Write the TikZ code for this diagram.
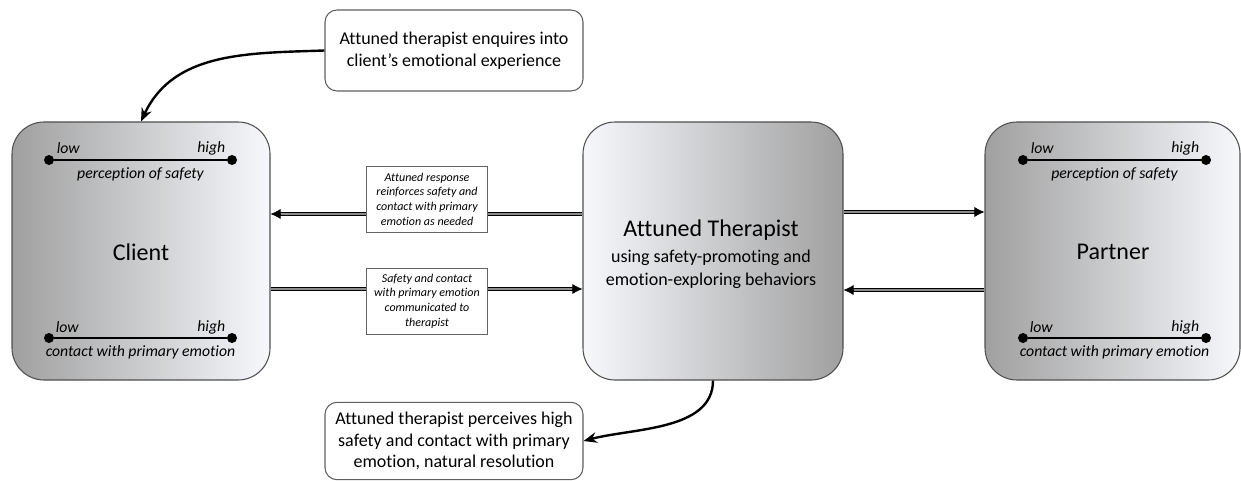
\documentclass[tikz,border=0pt]{standalone}
\usepackage{fontspec}
\setmainfont{Carlito}[Ligatures={NoCommon,NoRequired,NoContextual}]
\usetikzlibrary{arrows.meta,calc}
\definecolor{shdark}{RGB}{160,160,160}
\definecolor{shlight}{RGB}{246,248,252}
\definecolor{bordergray}{RGB}{80,80,80}
\definecolor{notegray}{RGB}{95,95,95}
\definecolor{labelgray}{RGB}{100,100,100}
\definecolor{dblgray}{RGB}{140,140,140}
\begin{document}
\begin{tikzpicture}[x=0.75pt,y=-0.75pt,
  bigbox/.style={draw=bordergray, line width=0.8pt, rounded corners=24pt, inner sep=0pt, minimum height=193.5pt},
  notebox/.style={draw=notegray, line width=0.8pt, rounded corners=9pt, fill=white, minimum width=193.5pt, align=center, inner sep=0pt, font=\fontsize{13.5}{16.2}\selectfont},
  labelbox/.style={draw=labelgray, line width=0.6pt, fill=white, minimum width=91pt, minimum height=49.5pt, inner sep=0pt, align=center, font=\fontsize{9}{11}\selectfont\itshape},
  dblline/.style={draw=black, line width=0.75pt, double=dblgray, double distance=1.9pt, shorten >=6pt},
  dbltip/.style={-{Latex[length=7.5pt,width=7.5pt]}, line width=0.5pt},
  curvearrow/.style={-{Stealth[length=10pt,width=8pt]}, line width=1.8pt},
  scaletext/.style={font=\fontsize{11.8}{14}\selectfont\itshape, inner sep=0pt},
  scaleline/.style={line width=1.5pt},
  scaledot/.style={circle, fill=black, minimum size=7.5pt, inner sep=0pt},
  bigtext/.style={font=\fontsize{18}{21}\selectfont}
]
\useasboundingbox (0,0) rectangle (1241,481);

% main boxes
\node[bigbox, minimum width=193.5pt, left color=shdark, right color=shlight] (client) at (141,251) {};
\node[bigbox, minimum width=195pt, left color=shlight, right color=shdark] (ther) at (713,251) {};
\node[bigbox, minimum width=191.25pt, left color=shdark, right color=shlight] (partner) at (1112.5,251) {};

\node[bigtext] (clientlbl) at (141,252) {Client};
\node[bigtext] (partnerlbl) at (1113,252) {Partner};
\node[align=center, font=\fontsize{13.5}{17.2}\selectfont, inner sep=0pt] (thertext) at (711,254)
  {{\fontsize{18}{21}\selectfont Attuned Therapist}\\[2.4pt]
   using safety-promoting and\\ emotion-exploring behaviors};

% scales
\foreach \b/\cx in {client/140.5, partner/1114.5}{
  \node[scaledot] (\b-d1) at (\cx-91.5,160) {};
  \node[scaledot] (\b-d2) at (\cx+91.5,160) {};
  \draw[scaleline] (\b-d1) -- (\b-d2);
  \node[scaletext, anchor=west] (\b-low1) at (\cx-84,148) {low};
  \node[scaletext, anchor=east] (\b-high1) at (\cx+85,148) {high};
  \node[scaletext] (\b-lab1) at (\cx,174) {perception of safety};
  \node[scaledot] (\b-d3) at (\cx-91.5,338) {};
  \node[scaledot] (\b-d4) at (\cx+91.5,338) {};
  \draw[scaleline] (\b-d3) -- (\b-d4);
  \node[scaletext, anchor=west] (\b-low2) at (\cx-85,327) {low};
  \node[scaletext, anchor=east] (\b-high2) at (\cx+85,327) {high};
  \node[scaletext] (\b-lab2) at (\cx,352) {contact with primary emotion};
}

% connector points
\coordinate (ctop) at ($(client.east)+(0,-37)$);
\coordinate (cbot) at ($(client.east)+(0,38)$);
\coordinate (twtop) at ($(ther.west)+(0,-37)$);
\coordinate (twbot) at ($(ther.west)+(0,38)$);
\coordinate (tetop) at ($(ther.east)+(0,-39)$);
\coordinate (tebot) at ($(ther.east)+(0,39)$);
\coordinate (ptop) at ($(partner.west)+(0,-39)$);
\coordinate (pbot) at ($(partner.west)+(0,39)$);

% double-line arrows
\draw[dblline] (twtop) -- (ctop);
\draw[dbltip] ($(ctop)+(10,0)$) -- (ctop);
\draw[dblline] (cbot) -- (twbot);
\draw[dbltip] ($(twbot)+(-10,0)$) -- (twbot);
\draw[dblline] (tetop) -- (ptop);
\draw[dbltip] ($(ptop)+(-10,0)$) -- (ptop);
\draw[dblline] (pbot) -- (tebot);
\draw[dbltip] ($(tebot)+(10,0)$) -- (tebot);

% label boxes on arrows
\node[labelbox] (lab1) at (427,199) {Attuned response\\ reinforces safety and\\ contact with primary\\ emotion as needed};
\node[labelbox] (lab2) at (427,301) {Safety and contact\\ with primary emotion\\ communicated to\\ therapist};

% note boxes
\node[notebox, minimum height=60.75pt] (note1) at (454,50.5) {Attuned therapist enquires into\\ client’s emotional experience};
\node[notebox, minimum height=58pt] (note2) at (454,441) {Attuned therapist perceives high\\ safety and contact with primary\\ emotion, natural resolution};

% curved arrows
\draw[curvearrow] (note1.west) to[out=182, in=65] (client.north);
\draw[curvearrow] (ther.south) to[out=-90, in=15, looseness=0.9] (note2.east);
\end{tikzpicture}
\end{document}
